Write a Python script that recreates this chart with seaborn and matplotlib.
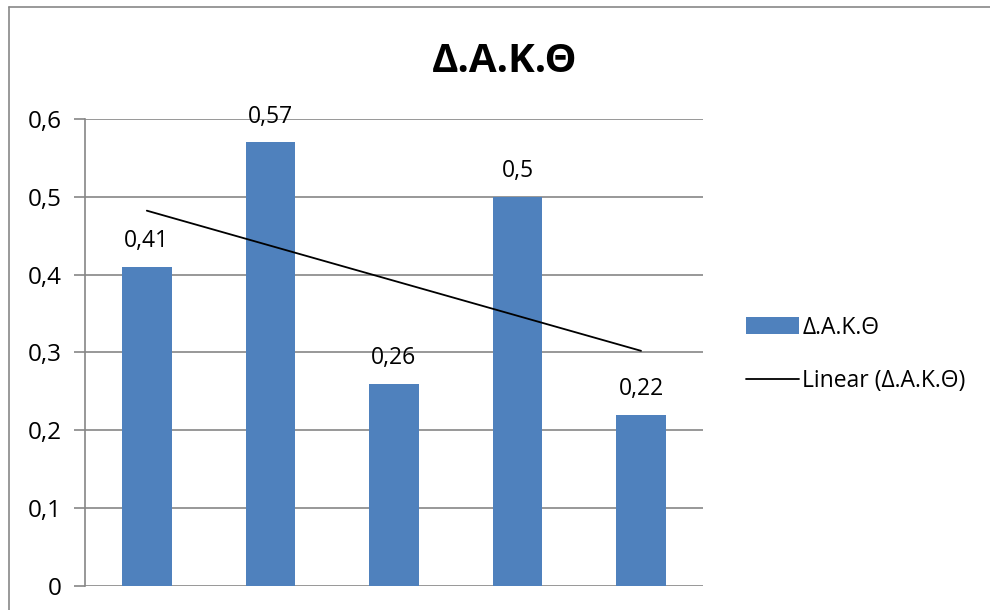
import numpy as np
import pandas as pd
import matplotlib
matplotlib.use("Agg")
import matplotlib.pyplot as plt
import seaborn as sns
from matplotlib.lines import Line2D
from matplotlib.patches import Patch

# Data
SERIES_NAME = "Δ.Α.Κ.Θ"
categories = ["1", "2", "3", "4", "5"]
values = [0.41, 0.57, 0.26, 0.50, 0.22]
y_ticks = [0, 0.1, 0.2, 0.3, 0.4, 0.5, 0.6]

BAR_COLOR = "#4F81BD"
GRID_COLOR = "#868686"

sns.set_theme(style="white")
plt.rcParams["font.family"] = ["Open Sans", "DejaVu Sans"]
plt.rcParams["text.color"] = "black"
plt.rcParams["ytick.labelcolor"] = "black"

df = pd.DataFrame({"cat": categories, "val": values})

fig = plt.figure(figsize=(9.9, 6.1), dpi=100)
ax = fig.add_axes([0.0859, 0.0393, 0.624, 0.766])

sns.barplot(data=df, x="cat", y="val", color=BAR_COLOR, saturation=1,
            width=0.4, linewidth=0, edgecolor="none", ax=ax, zorder=3)

# linear trendline (least squares, like Excel)
xs = np.arange(len(values))
slope, intercept = np.polyfit(xs + 1, values, 1)
ax.plot(xs, slope * (xs + 1) + intercept, color="black", lw=1.3, zorder=4)

# data labels
for i, v in enumerate(values):
    ax.text(i, v + 0.017, f"{v:g}".replace(".", ","), ha="center", va="bottom",
            fontsize=16.5, color="black", zorder=5)

ax.set_ylim(0, 0.6)
ax.set_xlim(-0.5, len(values) - 0.5)
ax.set_yticks(y_ticks)
ax.set_yticklabels([f"{t:g}".replace(".", ",") for t in y_ticks], fontsize=17.5,
                   color="black")
ax.set_xticks([])
ax.set_xlabel("")
ax.set_ylabel("")
ax.yaxis.grid(True, color=GRID_COLOR, lw=1.2, zorder=0)
ax.tick_params(axis="y", length=8, width=1.2, color=GRID_COLOR, pad=9, left=True)
for side in ["top", "right", "bottom"]:
    ax.spines[side].set_visible(False)
ax.spines["left"].set_color(GRID_COLOR)
ax.spines["left"].set_linewidth(1.2)

fig.text(0.51, 0.9, SERIES_NAME, ha="center", va="center",
         fontsize=29, fontweight="bold", color="black")

handles = [Patch(facecolor=BAR_COLOR, edgecolor="none"),
           Line2D([0], [0], color="black", lw=1.3)]
fig.legend(handles, [SERIES_NAME, f"Linear ({SERIES_NAME})"],
           loc="center left", bbox_to_anchor=(0.742, 0.419), frameon=False,
           fontsize=16.5, handlelength=2.3, handleheight=0.7, handletextpad=0.15,
           labelspacing=1.3, borderpad=0, labelcolor="black")

# chart area border (only the left and top edges fall inside the picture)
fig.add_artist(Line2D([0.009, 0.009], [0, 0.9885], color="#888888", lw=1.2))
fig.add_artist(Line2D([0.009, 1.0], [0.9885, 0.9885], color="#888888", lw=1.2))

fig.savefig("out.png", dpi=100)
